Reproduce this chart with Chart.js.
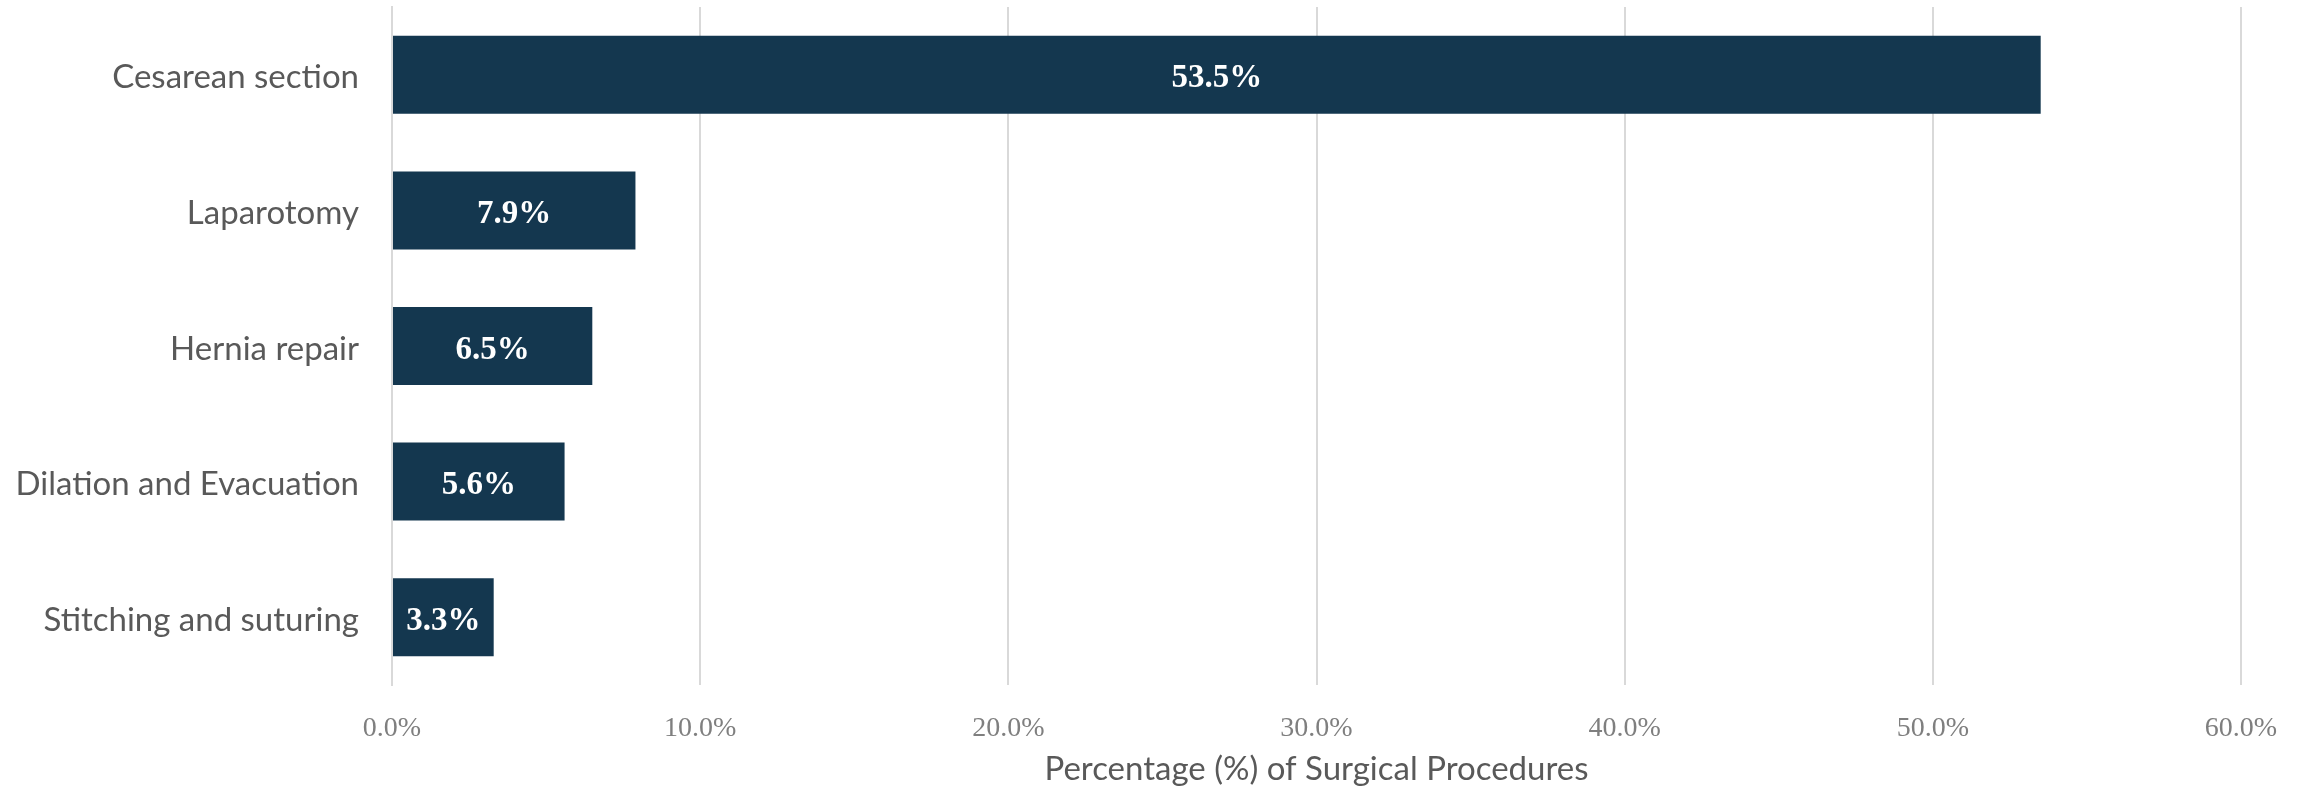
<!DOCTYPE html>
<html>
<head>
<meta charset="utf-8">
<script src="https://cdn.jsdelivr.net/npm/chart.js@4"></script>
<style>
  html, body { margin:0; padding:0; background:#fff; }
  #wrap { width:2310px; height:790px; }
</style>
</head>
<body>
<div id="wrap"><canvas id="chart" width="2310" height="790"></canvas></div>
<script>
// DATA
const procedures = ['Cesarean section', 'Laparotomy', 'Hernia repair', 'Dilation and Evacuation', 'Stitching and suturing'];
const shares = [53.5, 7.9, 6.5, 5.6, 3.3];
const axisTicks = [0, 10, 20, 30, 40, 50, 60];
const axisTitle = 'Percentage (%) of Surgical Procedures';

const BAR = '#14374f';
const SANS = 'Lato, "Open Sans", sans-serif';
const SERIF = '"Liberation Serif", "DejaVu Serif", serif';

// white value labels in the middle of each bar
const barLabels = {
  id: 'barLabels',
  afterDatasetsDraw(chart) {
    const { ctx } = chart;
    const meta = chart.getDatasetMeta(0);
    ctx.save();
    ctx.fillStyle = '#ffffff';
    ctx.font = 'bold 33px ' + SERIF;
    ctx.textAlign = 'center';
    ctx.textBaseline = 'middle';
    meta.data.forEach((bar, i) => {
      const cx = (bar.x + bar.base) / 2;
      ctx.fillText(shares[i].toFixed(1) + '%', cx, bar.y + 4);
    });
    ctx.restore();
  }
};

new Chart(document.getElementById('chart'), {
  type: 'bar',
  data: {
    labels: procedures,
    datasets: [{
      data: shares,
      backgroundColor: BAR,
      borderWidth: 0,
      categoryPercentage: 1,
      barPercentage: 0.575
    }]
  },
  options: {
    indexAxis: 'y',
    responsive: false,
    animation: false,
    layout: { padding: { top: 7, right: 69, bottom: 0, left: 0 } },
    plugins: { legend: { display: false }, tooltip: { enabled: false } },
    scales: {
      x: {
        min: 0, max: 60,
        afterBuildTicks: s => { s.ticks = axisTicks.map(v => ({ value: v })); },
        afterFit: s => { s.height = 105; },
        grid: { color: '#d9d9d9', lineWidth: 2, drawTicks: false },
        border: { display: false },
        ticks: {
          padding: 27,
          color: '#7f7f7f',
          font: { family: SERIF, size: 28 },
          callback: v => v.toFixed(1) + '%'
        },
        title: {
          display: true,
          text: axisTitle,
          color: '#595959',
          font: { family: SANS, size: 33 },
          padding: { top: 0, bottom: 1 }
        }
      },
      y: {
        afterFit: s => { s.width = 392; s.paddingTop = 0; s.paddingBottom = 0; },
        grid: { display: false, drawTicks: false },
        border: { display: true, color: '#d9d9d9', width: 2 },
        ticks: {
          padding: 33,
          labelOffset: 3,
          color: '#595959',
          font: { family: SANS, size: 33 }
        }
      }
    }
  },
  plugins: [barLabels]
});
</script>
</body>
</html>
